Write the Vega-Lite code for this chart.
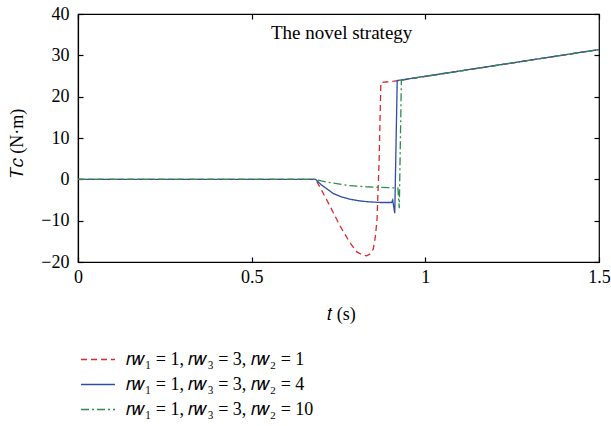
{
  "$schema": "https://vega.github.io/schema/vega-lite/v6.json",
  "width": 521,
  "height": 248,
  "autosize": {"type": "none"},
  "padding": {"left": 78, "top": 14, "right": 12, "bottom": 164},
  "config": {
    "font": "Liberation Serif",
    "view": {"stroke": "black", "strokeWidth": 1.2},
    "text": {"font": "Liberation Serif"},
    "legend": {"labelFont": "Liberation Serif", "titleFont": "Liberation Serif"},
    "axis": {
      "labelFont": "Liberation Serif",
      "titleFont": "Liberation Serif",
      "domainColor": "black",
      "tickColor": "black",
      "labelColor": "black",
      "titleColor": "black",
      "labelFontSize": 18,
      "titleFontSize": 18,
      "titleFontWeight": "normal",
      "grid": false,
      "tickSize": -5,
      "tickWidth": 1.2,
      "domainWidth": 1.2
    }
  },
  "datasets": {
    "curves": [
      {"s": 1, "t": 0, "v": 0},
      {"s": 1, "t": 0.684, "v": 0},
      {"s": 1, "t": 0.7, "v": -2.4},
      {"s": 1, "t": 0.725, "v": -6.4},
      {"s": 1, "t": 0.754, "v": -11.2},
      {"s": 1, "t": 0.782, "v": -15.2},
      {"s": 1, "t": 0.802, "v": -17.5},
      {"s": 1, "t": 0.818, "v": -18.3},
      {"s": 1, "t": 0.831, "v": -18.5},
      {"s": 1, "t": 0.842, "v": -18.0},
      {"s": 1, "t": 0.85, "v": -16.9},
      {"s": 1, "t": 0.856, "v": -14.0},
      {"s": 1, "t": 0.861, "v": -9.6},
      {"s": 1, "t": 0.867, "v": 4.8},
      {"s": 1, "t": 0.872, "v": 23.4},
      {"s": 1, "t": 0.924, "v": 23.9},
      {"s": 1, "t": 1.5, "v": 31.4},
      {"s": 4, "t": 0, "v": 0},
      {"s": 4, "t": 0.684, "v": 0},
      {"s": 4, "t": 0.7, "v": -1.3},
      {"s": 4, "t": 0.72, "v": -2.5},
      {"s": 4, "t": 0.734, "v": -3.4},
      {"s": 4, "t": 0.76, "v": -4.3},
      {"s": 4, "t": 0.782, "v": -4.8},
      {"s": 4, "t": 0.81, "v": -5.2},
      {"s": 4, "t": 0.83, "v": -5.4},
      {"s": 4, "t": 0.87, "v": -5.6},
      {"s": 4, "t": 0.903, "v": -5.6},
      {"s": 4, "t": 0.906, "v": -5.0},
      {"s": 4, "t": 0.912, "v": -8.2},
      {"s": 4, "t": 0.919, "v": 23.9},
      {"s": 4, "t": 1.5, "v": 31.4},
      {"s": 10, "t": 0, "v": 0},
      {"s": 10, "t": 0.684, "v": 0},
      {"s": 10, "t": 0.7, "v": -0.4},
      {"s": 10, "t": 0.734, "v": -0.9},
      {"s": 10, "t": 0.78, "v": -1.5},
      {"s": 10, "t": 0.83, "v": -1.8},
      {"s": 10, "t": 0.921, "v": -2.1},
      {"s": 10, "t": 0.925, "v": -7.0},
      {"s": 10, "t": 0.931, "v": 24.0},
      {"s": 10, "t": 1.5, "v": 31.4}
    ]
  },
  "layer": [
    {
      "data": {"name": "curves"},
      "mark": {"type": "line", "strokeWidth": 1.3, "clip": true},
      "encoding": {
        "x": {
          "field": "t", "type": "quantitative",
          "scale": {"domain": [0, 1.5], "nice": false, "zero": false},
          "axis": {
            "orient": "bottom", "values": [0, 0.5, 1, 1.5], "format": "~g",
            "tickSize": -5, "labelPadding": 11, "labelFlush": false,
            "title": "𝑡 (s)", "titleX": 263, "titleY": 57, "titleBaseline": "alphabetic"
          }
        },
        "y": {
          "field": "v", "type": "quantitative",
          "scale": {"domain": [-20, 40], "nice": false, "zero": false},
          "axis": {
            "orient": "left", "values": [-20, -10, 0, 10, 20, 30, 40],
            "tickSize": -5, "labelPadding": 14, "labelFlush": false,
            "title": "𝑇𝑐 (N·m)", "titleX": -61, "titleY": 129, "titleAngle": -90,
            "titleAlign": "center", "titleBaseline": "middle"
          }
        },
        "color": {
          "field": "s", "type": "nominal",
          "scale": {"domain": [1, 4, 10], "range": ["#e5252a", "#2d4fa3", "#2e8b4f"]},
          "legend": {
            "orient": "none", "legendX": 2, "legendY": 333,
            "title": null,
            "symbolType": "stroke", "symbolSize": 1156, "symbolStrokeWidth": 1.3,
            "clipHeight": 25, "rowPadding": 0,
            "labelFont": "Liberation Serif",
            "labelFontSize": 18, "labelColor": "black", "labelOffset": 10,
            "labelLimit": 400,
            "labelExpr": "'𝑟𝑤₁ = 1, 𝑟𝑤₃ = 3, 𝑟𝑤₂ = ' + datum.label"
          }
        },
        "strokeDash": {
          "field": "s", "type": "nominal",
          "scale": {"domain": [1, 4, 10], "range": [[6, 4], [1, 0], [8, 3, 2, 3]]},
          "legend": {
            "orient": "none", "legendX": 2, "legendY": 333,
            "title": null,
            "symbolType": "stroke", "symbolSize": 1156, "symbolStrokeWidth": 1.3,
            "clipHeight": 25, "rowPadding": 0,
            "labelFont": "Liberation Serif",
            "labelFontSize": 18, "labelColor": "black", "labelOffset": 10,
            "labelLimit": 400,
            "labelExpr": "'𝑟𝑤₁ = 1, 𝑟𝑤₃ = 3, 𝑟𝑤₂ = ' + datum.label"
          }
        }
      }
    },
    {
      "data": {"values": [{"label": "The novel strategy", "t": 0.759, "v": 35.5}]},
      "mark": {"type": "text", "font": "Liberation Serif", "fontSize": 19, "color": "black", "baseline": "middle", "align": "center"},
      "encoding": {
        "x": {"field": "t", "type": "quantitative", "axis": null},
        "y": {"field": "v", "type": "quantitative", "axis": null},
        "text": {"field": "label"}
      }
    },
    {
      "data": {"name": "curves"},
      "mark": {"type": "line", "opacity": 0},
      "encoding": {
        "x": {
          "field": "t", "type": "quantitative",
          "axis": {"orient": "top", "values": [0, 0.5, 1, 1.5], "tickSize": -5, "labels": false, "domain": false, "title": null}
        },
        "y": {
          "field": "v", "type": "quantitative",
          "axis": {"orient": "right", "values": [-20, -10, 0, 10, 20, 30, 40], "tickSize": -5, "labels": false, "domain": false, "title": null}
        }
      }
    }
  ],
  "resolve": {"axis": {"x": "independent", "y": "independent"}}
}
